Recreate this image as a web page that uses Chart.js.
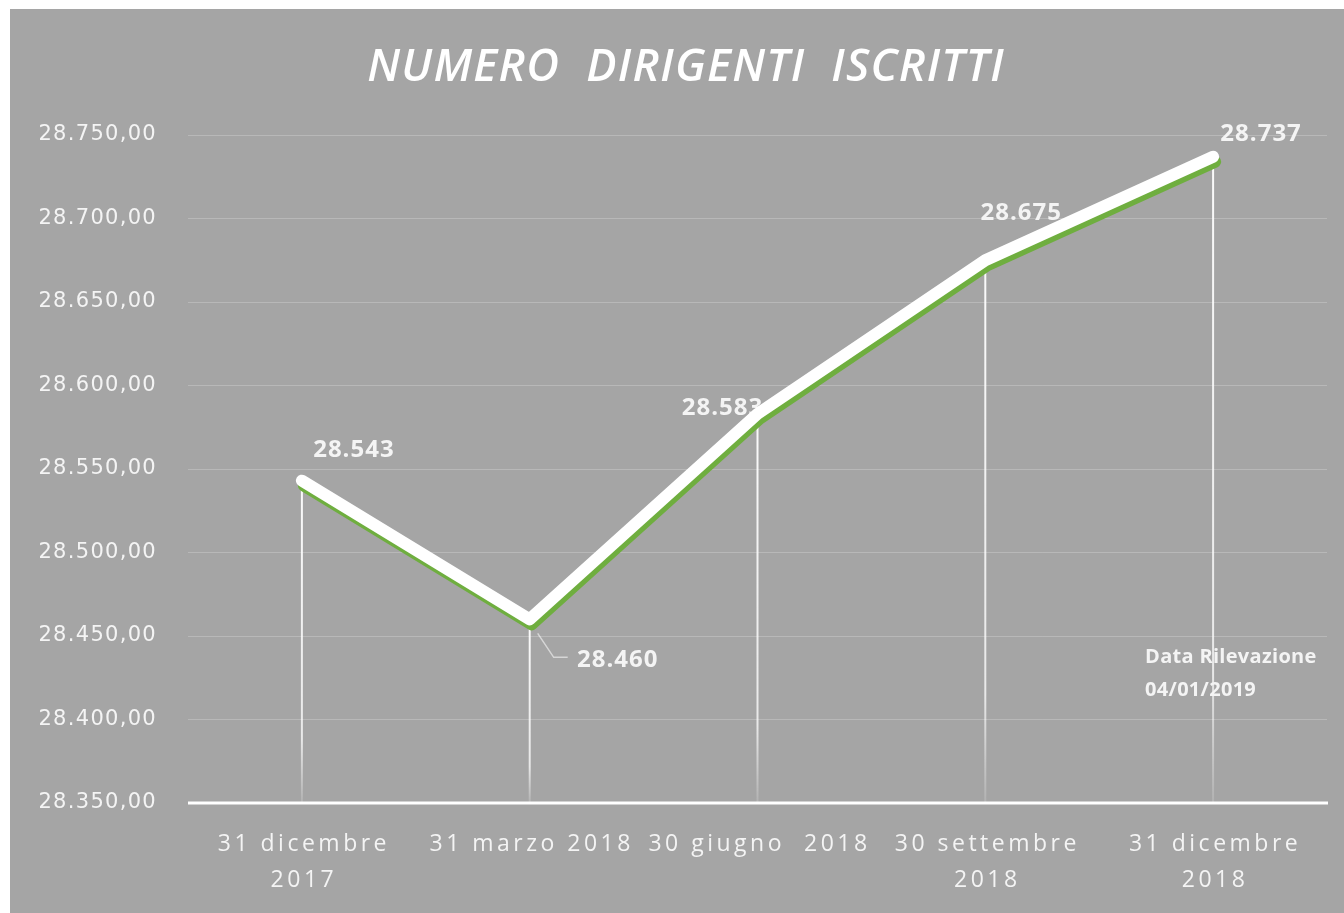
<!DOCTYPE html>
<html>
<head>
<meta charset="utf-8">
<script src="https://cdn.jsdelivr.net/npm/chart.js@4"></script>
<style>
  html, body { margin: 0; padding: 0; background: #ffffff; }
  #wrap { position: absolute; left: 10px; top: 9px; width: 1334px; height: 904px; background: #a5a5a5; }
</style>
</head>
<body>
<div id="wrap"><canvas id="chart" width="1334" height="904"></canvas></div>
<script>
const chartTitle = "NUMERO  DIRIGENTI  ISCRITTI";
const categories = [
  ["31 dicembre", "2017"],
  ["31 marzo 2018"],
  ["30 giugno  2018"],
  ["30 settembre", "2018"],
  ["31 dicembre", "2018"],
];
const iscritti = [28543, 28460, 28583, 28675, 28737];
const yTicks = [28350, 28400, 28450, 28500, 28550, 28600, 28650, 28700, 28750];
const noteLines = ["Data Rilevazione", "04/01/2019"];

const textColor = "#f4f4f4";

// "28750" -> "28.750"
function fmtInt(v) {
  return String(Math.round(v)).replace(/\B(?=(\d{3})+(?!\d))/g, ".");
}

// where each value label sits relative to its point
const labelOffsets = [[52, -31], [88, 41], [-35, -6], [36, -47], [48, -23]];

const decorations = {
  id: "decorations",
  beforeDraw(chart) {
    // Excel-like expanded spacing for the axis text
    chart.ctx.letterSpacing = "1.3px";
  },
  beforeDatasetsDraw(chart) {
    const ctx = chart.ctx;
    const meta = chart.getDatasetMeta(0);
    const area = chart.chartArea;
    const bottom = area.bottom;
    ctx.save();
    // drop lines
    meta.data.forEach((pt) => {
      const g = ctx.createLinearGradient(0, pt.y, 0, bottom);
      g.addColorStop(0, "rgba(255,255,255,0.95)");
      g.addColorStop(0.8, "rgba(255,255,255,0.75)");
      g.addColorStop(1, "rgba(255,255,255,0.15)");
      ctx.strokeStyle = g;
      ctx.lineWidth = 2;
      ctx.beginPath();
      ctx.moveTo(pt.x, pt.y);
      ctx.lineTo(pt.x, bottom);
      ctx.stroke();
    });
    // category axis line
    ctx.strokeStyle = "#ffffff";
    ctx.lineWidth = 3;
    ctx.beginPath();
    ctx.moveTo(area.left, bottom);
    ctx.lineTo(area.right + 1, bottom);
    ctx.stroke();
    // leader line for the low point
    const low = meta.data[1];
    ctx.strokeStyle = "rgba(255,255,255,0.55)";
    ctx.lineWidth = 1.5;
    ctx.beginPath();
    ctx.moveTo(low.x + 8, low.y + 14);
    ctx.lineTo(low.x + 24, low.y + 38);
    ctx.lineTo(low.x + 38, low.y + 38);
    ctx.stroke();
    // value labels
    ctx.fillStyle = textColor;
    ctx.font = "bold 24px 'Open Sans'";
    ctx.letterSpacing = "1px";
    ctx.textAlign = "center";
    ctx.textBaseline = "middle";
    meta.data.forEach((pt, i) => {
      const [dx, dy] = labelOffsets[i];
      ctx.fillText(fmtInt(iscritti[i]), pt.x + dx, pt.y + dy);
    });
    ctx.restore();
  },
  beforeDatasetDraw(chart) {
    const ctx = chart.ctx;
    ctx.save();
    ctx.shadowColor = "#6fae3f";
    ctx.shadowOffsetX = 2;
    ctx.shadowOffsetY = 5;
    ctx.shadowBlur = 0;
  },
  afterDatasetDraw(chart) {
    chart.ctx.restore();
  },
  afterDraw(chart) {
    const ctx = chart.ctx;
    const x = chart.scales.x;
    const area = chart.chartArea;
    ctx.save();
    // title
    ctx.fillStyle = "#ffffff";
    ctx.font = "italic 600 45px 'Open Sans'";
    ctx.letterSpacing = "1.3px";
    ctx.textAlign = "center";
    ctx.textBaseline = "middle";
    ctx.fillText(chartTitle, 676, 59);
    // category labels, letter spaced
    ctx.fillStyle = textColor;
    ctx.font = "500 23px 'Open Sans'";
    ctx.letterSpacing = "3.5px";
    categories.forEach((lines, i) => {
      const cx = x.getPixelForValue(i) + 2;
      lines.forEach((line, j) => {
        ctx.fillText(line, cx, area.bottom + 41 + j * 36);
      });
    });
    // survey note
    ctx.font = "bold 20px 'Open Sans'";
    ctx.letterSpacing = "0.3px";
    ctx.textAlign = "left";
    const nx = x.getPixelForValue(categories.length - 1) - 68;
    noteLines.forEach((line, j) => {
      ctx.fillText(line, nx, area.top + 522 + j * 33);
    });
    ctx.restore();
    ctx.letterSpacing = "0px";
  },
};

new Chart(document.getElementById("chart"), {
  type: "line",
  data: {
    labels: categories.map((c) => c.join(" ")),
    datasets: [
      {
        label: "Numero dirigenti iscritti",
        data: iscritti,
        borderColor: "#ffffff",
        borderWidth: 12,
        borderCapStyle: "round",
        borderJoinStyle: "round",
        pointRadius: 0,
        tension: 0,
        fill: false,
      },
    ],
  },
  options: {
    responsive: false,
    animation: false,
    layout: { padding: { left: 0, right: 17, top: 126, bottom: 0 } },
    plugins: {
      legend: { display: false },
      tooltip: { enabled: false },
      title: { display: false },
    },
    scales: {
      x: {
        offset: true,
        grid: { display: false, drawTicks: false },
        border: { display: false },
        ticks: { display: false },
        afterFit(scale) { scale.height = 110; },
      },
      y: {
        min: yTicks[0],
        max: yTicks[yTicks.length - 1],
        afterBuildTicks(scale) { scale.ticks = yTicks.map((v) => ({ value: v })); },
        grid: { color: "rgba(255,255,255,0.22)", lineWidth: 1, drawTicks: false },
        border: { display: false },
        ticks: {
          color: textColor,
          padding: 31,
          font: { family: "'DejaVu Sans'", size: 21 },
          callback: (v) => fmtInt(v) + ",00",
        },
        afterFit(scale) { scale.width = 178; },
      },
    },
  },
  plugins: [decorations],
});
</script>
</body>
</html>
